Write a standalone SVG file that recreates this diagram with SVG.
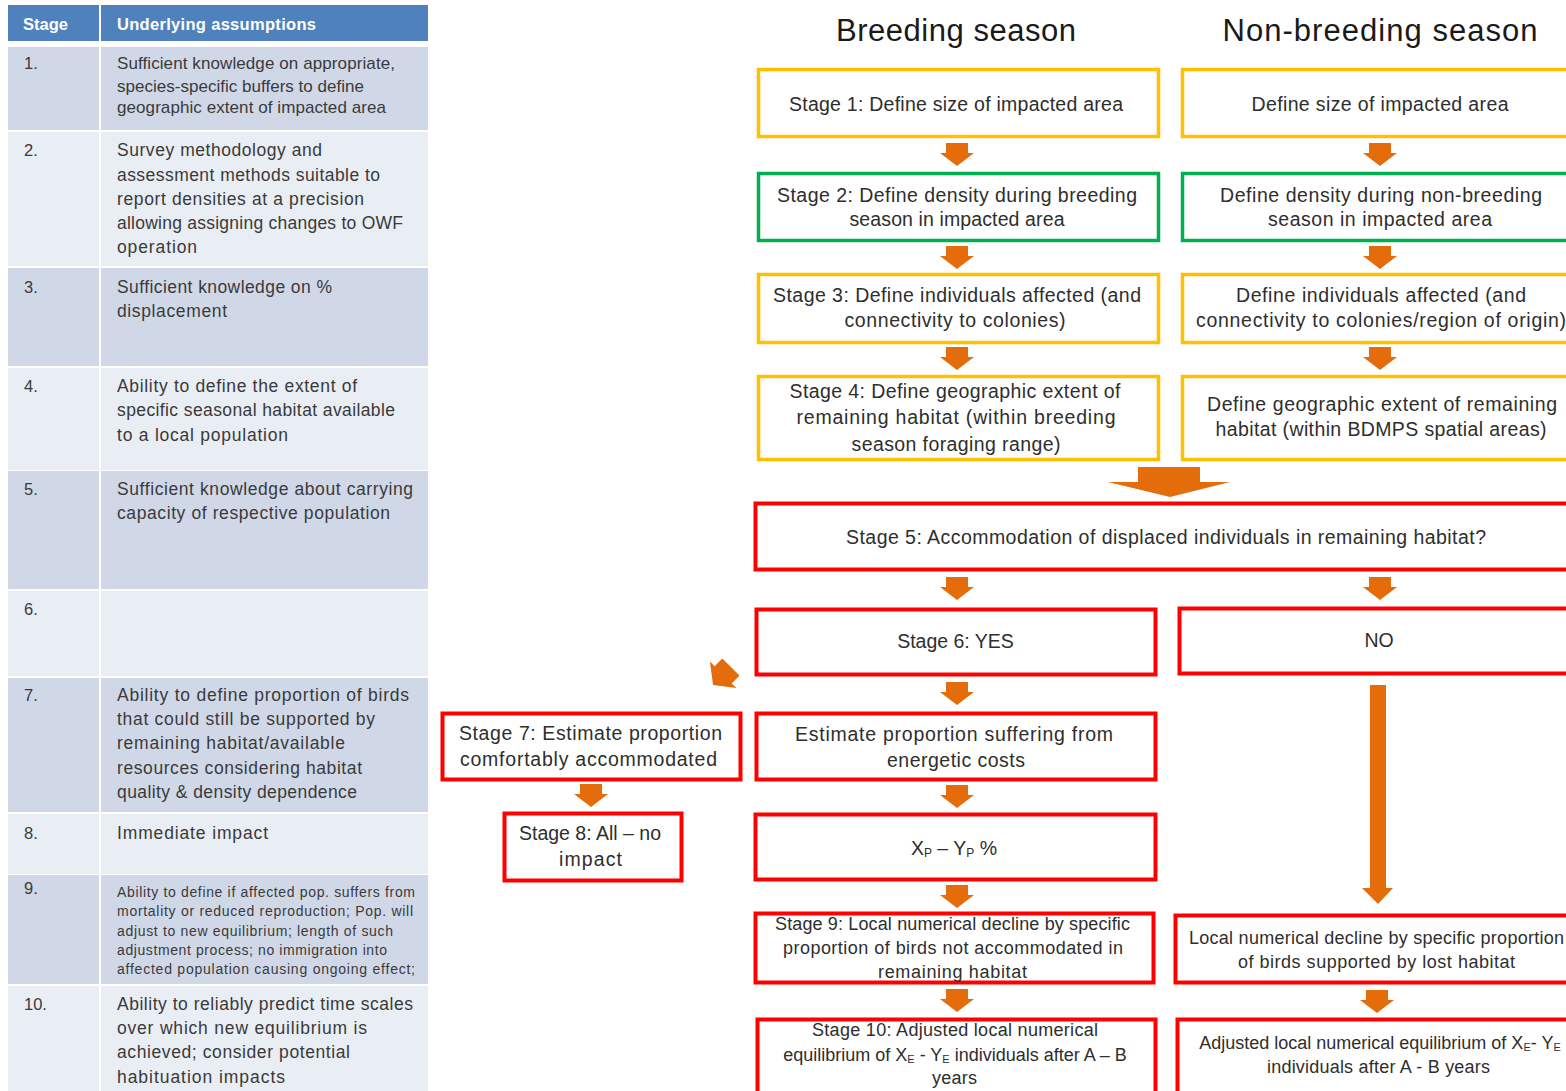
<svg xmlns="http://www.w3.org/2000/svg" xmlns:xlink="http://www.w3.org/1999/xlink" width="1566" height="1091" viewBox="0 0 1566 1091">
<style>
text{font-family:"Liberation Sans",Arial,sans-serif;dominant-baseline:central}
.hd{fill:#4F81BD}
.dk{fill:#D0D8E8}
.lt{fill:#E9EDF4}
.ht{fill:#ffffff;font-weight:bold;font-size:16.5px}
.tn{fill:#3a3a3a;font-size:16.5px}
.tb{fill:#3a3a3a;font-size:17.5px}
.t1{fill:#3a3a3a;font-size:17px}
.ts{fill:#3a3a3a;font-size:14px}
.ttl{fill:#1a1a1a;font-size:31px;text-anchor:middle}
.bt{fill:#2e2e2e;font-size:19.5px;text-anchor:middle}
.bs{fill:#2e2e2e;font-size:18px;text-anchor:middle}
.yb{fill:#ffffff;stroke:#FFC000;stroke-width:3.5}
.gb{fill:#ffffff;stroke:#00B050;stroke-width:3.5}
.rb{fill:#ffffff;stroke:#FF0000;stroke-width:4}
.ar{fill:#E46C0A}
</style>
<defs>
<path id="sa" d="M-11,0 H11 V10 H17 L0,23 L-17,10 H-11 Z"/>
</defs>

<g id="table">
<rect class="hd" x="8" y="5" width="91" height="36"/>
<rect class="hd" x="101" y="5" width="327" height="36"/>
<text class="ht" x="23" y="24">Stage</text>
<text class="ht" x="117" y="24" textLength="199">Underlying assumptions</text>

<g id="row1">
<rect class="dk" x="8" y="47" width="91" height="83"/><rect class="dk" x="101" y="47" width="327" height="83"/>
<text class="tn" x="24" y="63">1.</text>
<text class="t1" x="117" y="63" textLength="278">Sufficient knowledge on appropriate,</text>
<text class="t1" x="117" y="86" textLength="247">species-specific buffers to define</text>
<text class="t1" x="117" y="107" textLength="269">geographic extent of impacted area</text>
</g>
<g id="row2">
<rect class="lt" x="8" y="132" width="91" height="134"/><rect class="lt" x="101" y="132" width="327" height="134"/>
<text class="tn" x="24" y="150">2.</text>
<text class="tb" x="117" y="150" textLength="205">Survey methodology and</text>
<text class="tb" x="117" y="175" textLength="263">assessment methods suitable to</text>
<text class="tb" x="117" y="199" textLength="247">report densities at a precision</text>
<text class="tb" x="117" y="223" textLength="286">allowing assigning changes to OWF</text>
<text class="tb" x="117" y="247" textLength="80">operation</text>
</g>
<g id="row3">
<rect class="dk" x="8" y="268" width="91" height="98"/><rect class="dk" x="101" y="268" width="327" height="98"/>
<text class="tn" x="24" y="287">3.</text>
<text class="tb" x="117" y="287" textLength="215">Sufficient knowledge on %</text>
<text class="tb" x="117" y="311" textLength="110">displacement</text>
</g>
<g id="row4">
<rect class="lt" x="8" y="368" width="91" height="102"/><rect class="lt" x="101" y="368" width="327" height="102"/>
<text class="tn" x="24" y="386">4.</text>
<text class="tb" x="117" y="386" textLength="240">Ability to define the extent of</text>
<text class="tb" x="117" y="410" textLength="278">specific seasonal habitat available</text>
<text class="tb" x="117" y="435" textLength="171">to a local population</text>
</g>
<g id="row5">
<rect class="dk" x="8" y="471" width="91" height="118"/><rect class="dk" x="101" y="471" width="327" height="118"/>
<text class="tn" x="24" y="489">5.</text>
<text class="tb" x="117" y="489" textLength="296">Sufficient knowledge about carrying</text>
<text class="tb" x="117" y="513" textLength="273">capacity of respective population</text>
</g>
<g id="row6">
<rect class="lt" x="8" y="591" width="91" height="85"/><rect class="lt" x="101" y="591" width="327" height="85"/>
<text class="tn" x="24" y="609">6.</text>
</g>
<g id="row7">
<rect class="dk" x="8" y="678" width="91" height="134"/><rect class="dk" x="101" y="678" width="327" height="134"/>
<text class="tn" x="24" y="695">7.</text>
<text class="tb" x="117" y="695" textLength="292">Ability to define proportion of birds</text>
<text class="tb" x="117" y="719" textLength="258">that could still be supported by</text>
<text class="tb" x="117" y="743" textLength="228">remaining habitat/available</text>
<text class="tb" x="117" y="768" textLength="245">resources considering habitat</text>
<text class="tb" x="117" y="792" textLength="240">quality &amp; density dependence</text>
</g>
<g id="row8">
<rect class="lt" x="8" y="814" width="91" height="60"/><rect class="lt" x="101" y="814" width="327" height="60"/>
<text class="tn" x="24" y="833">8.</text>
<text class="tb" x="117" y="833" textLength="151">Immediate impact</text>
</g>
<g id="row9">
<rect class="dk" x="8" y="875" width="91" height="109"/><rect class="dk" x="101" y="875" width="327" height="109"/>
<text class="tn" x="24" y="888">9.</text>
<text class="ts" x="117" y="892" textLength="298">Ability to define if affected pop. suffers from</text>
<text class="ts" x="117" y="911" textLength="296">mortality or reduced reproduction; Pop. will</text>
<text class="ts" x="117" y="931" textLength="276">adjust to new equilibrium; length of such</text>
<text class="ts" x="117" y="950" textLength="270">adjustment process; no immigration into</text>
<text class="ts" x="117" y="969" textLength="298">affected population causing ongoing effect;</text>
</g>
<g id="row10">
<rect class="lt" x="8" y="986" width="91" height="105"/><rect class="lt" x="101" y="986" width="327" height="105"/>
<text class="tn" x="24" y="1004">10.</text>
<text class="tb" x="117" y="1004" textLength="296">Ability to reliably predict time scales</text>
<text class="tb" x="117" y="1028" textLength="250">over which new equilibrium is</text>
<text class="tb" x="117" y="1052" textLength="233">achieved; consider potential</text>
<text class="tb" x="117" y="1077" textLength="168">habituation impacts</text>
</g>
</g>

<g id="titles">
<text class="ttl" x="956" y="30" textLength="240">Breeding season</text>
<text class="ttl" x="1380" y="30" textLength="315">Non-breeding season</text>
</g>

<g id="connectors">
<use href="#sa" class="ar" transform="translate(957,143)"/>
<use href="#sa" class="ar" transform="translate(957,246)"/>
<use href="#sa" class="ar" transform="translate(957,347)"/>
<use href="#sa" class="ar" transform="translate(1380,143)"/>
<use href="#sa" class="ar" transform="translate(1380,246)"/>
<use href="#sa" class="ar" transform="translate(1380,347)"/>
<path class="ar" d="M1138,467 H1200 V482 H1230 L1170,497 L1108,482 H1138 Z"/>
<use href="#sa" class="ar" transform="translate(957,577)"/>
<use href="#sa" class="ar" transform="translate(1380,577)"/>
<use href="#sa" class="ar" transform="translate(722,676) rotate(45) scale(1.1) translate(0,-11.5)"/>
<use href="#sa" class="ar" transform="translate(957,682)"/>
<use href="#sa" class="ar" transform="translate(591,784)"/>
<use href="#sa" class="ar" transform="translate(957,785)"/>
<use href="#sa" class="ar" transform="translate(957,885)"/>
<use href="#sa" class="ar" transform="translate(957,989)"/>
<path class="ar" d="M1370,685 H1386 V888 H1393 L1378,904 L1362,888 H1370 Z"/>
<use href="#sa" class="ar" transform="translate(1377,990)"/>
</g>

<g id="b1">
<rect class="yb" x="758.5" y="69.5" width="400" height="67"/>
<text class="bt" x="956" y="104" textLength="334">Stage 1: Define size of impacted area</text>
</g>
<g id="b2">
<rect class="gb" x="758.5" y="173.5" width="400" height="67"/>
<text class="bt" x="957" y="195" textLength="360">Stage 2: Define density during breeding</text>
<text class="bt" x="957" y="219" textLength="215">season in impacted area</text>
</g>
<g id="b3">
<rect class="yb" x="758.5" y="274.5" width="400" height="68"/>
<text class="bt" x="957" y="295" textLength="368">Stage 3: Define individuals affected (and</text>
<text class="bt" x="955" y="320" textLength="221">connectivity to colonies)</text>
</g>
<g id="b4">
<rect class="yb" x="758.5" y="376.5" width="400" height="83"/>
<text class="bt" x="955" y="391" textLength="331">Stage 4: Define geographic extent of</text>
<text class="bt" x="956" y="417" textLength="319">remaining habitat (within breeding</text>
<text class="bt" x="956" y="444" textLength="209">season foraging range)</text>
</g>
<g id="r1">
<rect class="yb" x="1182.5" y="69.5" width="420" height="67"/>
<text class="bt" x="1380" y="104" textLength="257">Define size of impacted area</text>
</g>
<g id="r2">
<rect class="gb" x="1182.5" y="173.5" width="420" height="67"/>
<text class="bt" x="1381" y="195" textLength="322">Define density during non-breeding</text>
<text class="bt" x="1380" y="219" textLength="224">season in impacted area</text>
</g>
<g id="r3">
<rect class="yb" x="1182.5" y="274.5" width="420" height="68"/>
<text class="bt" x="1381" y="295" textLength="290">Define individuals affected (and</text>
<text class="bt" x="1381" y="320" textLength="370">connectivity to colonies/region of origin)</text>
</g>
<g id="r4">
<rect class="yb" x="1182.5" y="376.5" width="420" height="83"/>
<text class="bt" x="1382" y="404" textLength="350">Define geographic extent of remaining</text>
<text class="bt" x="1381" y="429" textLength="331">habitat (within BDMPS spatial areas)</text>
</g>
<g id="s5">
<rect class="rb" x="755.5" y="503.5" width="840" height="66"/>
<text class="bt" x="1166" y="537" textLength="640">Stage 5: Accommodation of displaced individuals in remaining habitat?</text>
</g>
<g id="s6">
<rect class="rb" x="756.5" y="609.5" width="399" height="65"/>
<text class="bt" x="955.5" y="641">Stage 6: YES</text>
</g>
<g id="no">
<rect class="rb" x="1179.5" y="608.5" width="420" height="65"/>
<text class="bt" x="1379" y="640">NO</text>
</g>
<g id="s7">
<rect class="rb" x="442.5" y="713.5" width="298" height="66"/>
<text class="bt" x="590.5" y="733" textLength="263">Stage 7: Estimate proportion</text>
<text class="bt" x="588.5" y="759" textLength="257">comfortably accommodated</text>
</g>
<g id="s8">
<rect class="rb" x="504.5" y="813.5" width="177" height="67"/>
<text class="bt" x="590" y="833">Stage 8: All – no</text>
<text class="bt" x="590.5" y="859" textLength="63">impact</text>
</g>
<g id="est">
<rect class="rb" x="756.5" y="713.5" width="399" height="66"/>
<text class="bt" x="954" y="734" textLength="318">Estimate proportion suffering from</text>
<text class="bt" x="956" y="760" textLength="138">energetic costs</text>
</g>
<g id="xp">
<rect class="rb" x="755.5" y="814.5" width="400" height="65"/>
<text class="bt" x="954" y="848">X<tspan font-size="12" dy="5">P</tspan><tspan dy="-5"> – Y</tspan><tspan font-size="12" dy="5">P</tspan><tspan dy="-5"> %</tspan></text>
</g>
<g id="s9">
<rect class="rb" x="755.5" y="913.5" width="398" height="69"/>
<text class="bs" x="952.5" y="924" textLength="355">Stage 9: Local numerical decline by specific</text>
<text class="bs" x="953" y="948" textLength="340">proportion of birds not accommodated in</text>
<text class="bs" x="952.5" y="972" textLength="149">remaining habitat</text>
</g>
<g id="s10">
<rect class="rb" x="757.5" y="1019.5" width="398" height="80"/>
<text class="bs" x="955" y="1030" textLength="286">Stage 10: Adjusted local numerical</text>
<text class="bs" x="955" y="1055">equilibrium of X<tspan font-size="11" dy="4">E</tspan><tspan dy="-4"> - Y</tspan><tspan font-size="11" dy="4">E</tspan><tspan dy="-4"> individuals after A – B</tspan></text>
<text class="bs" x="954.5" y="1078" textLength="45">years</text>
</g>
<g id="rl">
<rect class="rb" x="1175.5" y="915.5" width="420" height="67"/>
<text class="bs" x="1376.5" y="938" textLength="375">Local numerical decline by specific proportion</text>
<text class="bs" x="1376.5" y="962" textLength="277">of birds supported by lost habitat</text>
</g>
<g id="ra">
<rect class="rb" x="1177.5" y="1019.5" width="420" height="80"/>
<text class="bs" x="1380" y="1043">Adjusted local numerical equilibrium of X<tspan font-size="11" dy="4">E</tspan><tspan dy="-4">- Y</tspan><tspan font-size="11" dy="4">E</tspan></text>
<text class="bs" x="1378.5" y="1067" textLength="223">individuals after A - B years</text>
</g>
</svg>
